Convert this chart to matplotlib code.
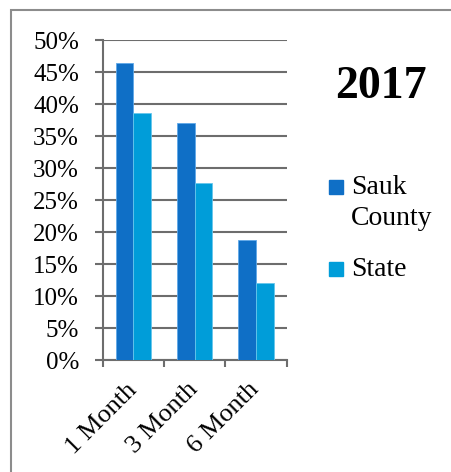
import numpy as np
import matplotlib.pyplot as plt
from matplotlib.patches import Rectangle

# retention by months after start
periods = ["1 Month", "3 Month", "6 Month"]
sauk_county = [46.4, 37.0, 18.8]
state = [38.6, 27.6, 12.0]
series_names = ["Sauk\nCounty", "State"]
series_colors = ["#0F6FC6", "#009DD9"]
year_title = "2017"

plt.rcParams["font.family"] = ["Liberation Serif", "DejaVu Serif"]

fig = plt.figure(figsize=(4.52, 4.72), dpi=100)
ax = fig.add_axes([0.227, 0.237, 0.407, 0.678])

x = np.arange(len(periods))
w = 0.287
ax.bar(x - w / 2, sauk_county, w, color=series_colors[0], edgecolor="#5FA8E8", linewidth=0.6, zorder=3)
ax.bar(x + w / 2, state, w, color=series_colors[1], edgecolor="#66C6EC", linewidth=0.6, zorder=3)

ax.set_xlim(-0.5, len(periods) - 0.5)
ax.set_ylim(0, 50)
ax.set_yticks(np.arange(0, 51, 5))
ax.set_yticklabels([f"{v}%" for v in range(0, 51, 5)], fontsize=18)
ax.yaxis.grid(True, color="#6D6D6D", linewidth=1.5, zorder=0)
ax.set_axisbelow(True)

# category boundaries as ticks, labels placed at centers
ax.set_xticks(np.arange(-0.5, len(periods), 1.0))
ax.set_xticklabels([])
ax.set_xticks(x, minor=True)
ax.set_xticklabels(periods, minor=True, rotation=45, ha="right", va="center",
                   rotation_mode="anchor", fontsize=19)
ax.tick_params(axis="x", which="minor", length=0, pad=19)
ax.tick_params(axis="x", which="major", direction="out", length=5, width=1.5, color="#6D6D6D")
ax.tick_params(axis="y", direction="out", length=6, width=1.5, color="#6D6D6D", pad=11)

for side in ["top", "right"]:
    ax.spines[side].set_visible(False)
for side in ["left", "bottom"]:
    ax.spines[side].set_color("#6D6D6D")
    ax.spines[side].set_linewidth(1.5)

# title and legend to the right of the plot
fig.text(381 / 452, 1 - 87 / 472, year_title, ha="center", va="center",
         fontsize=33, fontweight="bold")

legend_y = [187, 269]
for name, color, ly in zip(series_names, series_colors, legend_y):
    fig.patches.append(Rectangle((329 / 452, 1 - (ly + 7) / 472), 14 / 452, 14 / 472,
                                 transform=fig.transFigure, color=color))
    fig.text(351 / 452, 1 - (ly - 12) / 472, name, ha="left", va="top",
             fontsize=20, linespacing=1.3)

# outer frame (left and top edges only visible)
fig.patches.append(Rectangle((11 / 452, -0.1), 1.2, 1 - 10 / 472 + 0.1,
                             transform=fig.transFigure, fill=False,
                             edgecolor="#8C8C8C", linewidth=1.5))

fig.savefig("out.png", dpi=100)
